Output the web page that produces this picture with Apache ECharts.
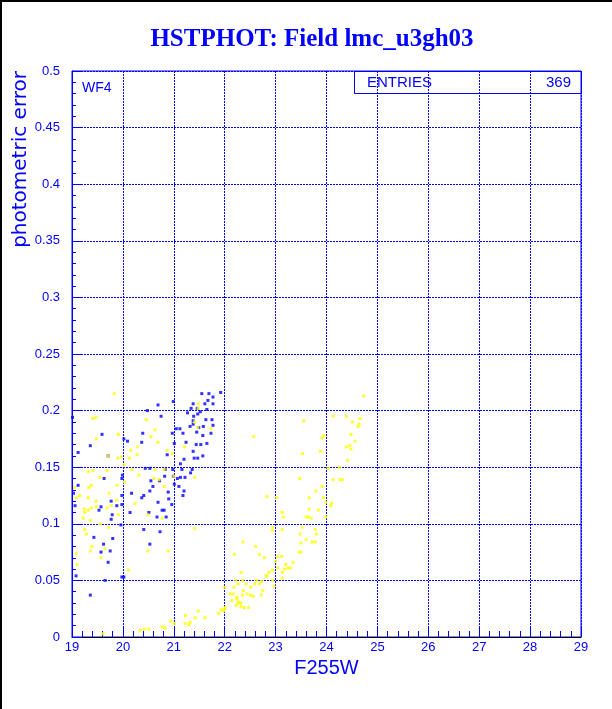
<!DOCTYPE html>
<html>
<head>
<meta charset="utf-8">
<script src="https://cdn.jsdelivr.net/npm/echarts@6/dist/echarts.min.js"></script>
<style>
html,body{margin:0;padding:0;background:#fff;}
#chart{width:612px;height:709px;}
</style>
</head>
<body>
<div id="chart"></div>
<script>
var titleText = 'HSTPHOT: Field lmc_u3gh03';
var xName = 'F255W';
var yName = 'photometric error';
var panelLabel = 'WF4';
var statLabel = 'ENTRIES';
var statValue = '369';

var blueX = [21.55,21.69,21.67,21.92,21.77,20.69,21.38,21.61,21.77,21.34,21.46,21.52,21.65,20.48,21.27,21.47,19.01,20.75,21.39,21.75,21.63,21.38,20.99,21.77,21.32,21.05,21.12,21.49,21.58,21.38,19.59,20.39,20.97,21.18,21.45,21.57,21.73,20.02,20.09,20.37,21.01,21.24,21.44,21.53,21.65,19.12,19.36,19.71,20.87,21.38,21.20,21.40,21.47,21.57,21.13,19.99,20.44,20.53,20.83,20.98,21.16,21.36,19.63,19.98,20.55,20.72,20.82,20.99,21.07,21.13,21.22,21.33,19.12,20.59,21.01,21.10,20.53,21.20,20.89,20.17,19.03,21.18,20.41,20.37,19.77,19.98,20.69,20.90,20.96,19.88,19.98,19.06,19.57,19.53,20.51,20.77,20.81,20.14,19.79,20.67,20.85,19.77,19.96,20.41,20.73,19.43,19.80,20.53,19.62,19.57,19.75,19.71,19.08,19.65,19.98,20.02,19.36];
var blueY = [0.215,0.215,0.209,0.216,0.212,0.205,0.206,0.206,0.206,0.202,0.202,0.199,0.201,0.200,0.198,0.197,0.194,0.195,0.195,0.192,0.192,0.191,0.208,0.187,0.186,0.184,0.184,0.185,0.186,0.188,0.179,0.180,0.180,0.180,0.181,0.178,0.180,0.175,0.173,0.172,0.171,0.172,0.170,0.170,0.171,0.163,0.169,0.160,0.161,0.164,0.157,0.158,0.158,0.160,0.153,0.143,0.149,0.149,0.148,0.148,0.148,0.148,0.140,0.140,0.138,0.138,0.142,0.142,0.140,0.141,0.141,0.145,0.134,0.133,0.135,0.133,0.129,0.129,0.128,0.127,0.127,0.125,0.125,0.123,0.120,0.125,0.119,0.122,0.117,0.116,0.117,0.116,0.115,0.112,0.110,0.112,0.112,0.110,0.108,0.106,0.106,0.104,0.099,0.095,0.093,0.088,0.087,0.082,0.082,0.075,0.076,0.066,0.054,0.050,0.053,0.053,0.037];

var yellowX = [19.83,21.48,21.48,19.41,19.47,20.46,19.91,20.63,20.55,19.48,20.69,21.47,21.73,21.41,21.21,20.29,20.15,20.87,20.97,20.28,19.90,20.13,19.71,19.97,20.02,19.32,19.41,19.69,20.18,20.63,20.81,20.31,19.55,20.61,20.71,21.00,21.41,20.03,19.38,19.88,20.81,19.05,19.33,19.73,19.15,19.08,19.32,19.88,19.47,20.24,19.77,19.24,19.32,19.38,19.48,19.69,19.91,19.25,20.49,20.77,19.22,19.36,19.56,19.72,21.41,19.25,19.28,19.39,19.36,19.65,20.49,20.89,19.08,19.57,19.10,20.11,22.19,22.22,22.26,22.18,22.11,22.17,22.24,22.14,22.26,22.01,21.98,21.88,21.93,21.48,21.61,21.42,21.23,20.94,21.01,21.22,21.32,21.30,20.77,20.83,20.34,20.42,20.51,19.61,24.73,24.13,24.39,24.66,24.51,24.64,24.62,23.55,22.57,23.95,23.91,24.48,24.56,24.46,24.48,24.39,23.88,23.53,24.41,24.03,24.25,23.47,24.13,24.27,24.31,23.79,23.91,22.83,23.02,23.66,23.94,23.99,24.10,24.08,23.66,23.84,23.13,23.15,23.60,23.64,23.70,23.99,22.94,22.94,23.52,23.13,23.78,23.80,23.48,23.60,23.50,23.72,23.78,22.36,22.61,23.50,23.46,22.68,22.78,23.04,23.12,23.34,23.00,23.20,23.24,23.29,23.18,23.04,23.13,22.94,22.32,22.87,22.83,22.81,23.13,22.35,22.72,22.94,22.63,22.59,22.97,22.68,22.42,22.00,22.51,22.75,22.37,22.44,22.51,22.56,22.72,22.35,22.24,22.29,22.32,22.32,22.23,22.38,22.47,22.00];
var yellowY = [0.215,0.206,0.202,0.193,0.194,0.192,0.179,0.183,0.177,0.175,0.172,0.185,0.184,0.190,0.168,0.168,0.165,0.165,0.162,0.161,0.158,0.158,0.160,0.159,0.152,0.146,0.147,0.147,0.148,0.148,0.148,0.143,0.141,0.140,0.139,0.142,0.141,0.137,0.134,0.134,0.133,0.132,0.132,0.127,0.125,0.123,0.123,0.121,0.120,0.118,0.116,0.113,0.112,0.114,0.115,0.114,0.108,0.110,0.108,0.105,0.105,0.103,0.100,0.097,0.096,0.095,0.091,0.080,0.076,0.078,0.076,0.076,0.074,0.070,0.064,0.059,0.073,0.050,0.047,0.044,0.038,0.038,0.035,0.032,0.031,0.026,0.023,0.021,0.024,0.023,0.017,0.017,0.019,0.014,0.012,0.012,0.013,0.011,0.009,0.008,0.006,0.007,0.007,0.003,0.213,0.195,0.195,0.193,0.190,0.188,0.186,0.191,0.177,0.178,0.176,0.179,0.173,0.169,0.166,0.168,0.164,0.162,0.156,0.149,0.150,0.140,0.139,0.139,0.139,0.129,0.133,0.124,0.123,0.123,0.123,0.119,0.118,0.116,0.113,0.112,0.110,0.106,0.106,0.106,0.105,0.106,0.097,0.094,0.097,0.095,0.095,0.091,0.091,0.086,0.083,0.084,0.084,0.084,0.080,0.075,0.075,0.073,0.070,0.071,0.071,0.066,0.067,0.064,0.061,0.061,0.060,0.061,0.057,0.059,0.057,0.057,0.054,0.054,0.052,0.050,0.049,0.050,0.050,0.047,0.045,0.047,0.047,0.044,0.044,0.041,0.041,0.038,0.037,0.036,0.037,0.037,0.034,0.030,0.030,0.027,0.028,0.026,0.026,0.025];

function zip(xs, ys){ var out=[]; for(var i=0;i<xs.length;i++){ out.push([xs[i], ys[i]]); } return out; }

var BLUE = '#0000ff';
var chart = echarts.init(document.getElementById('chart'), null, {renderer:'canvas'});

var option = {
  backgroundColor: '#ffffff',
  animation: false,
  grid: {left: 72, top: 71, width: 509, height: 566, show: true, borderColor: BLUE, borderWidth: 1, backgroundColor: 'transparent'},
  xAxis: {
    type: 'value', min: 19, max: 29, interval: 1,
    name: xName, nameLocation: 'middle', nameGap: 20,
    nameTextStyle: {fontFamily: 'Liberation Sans', fontSize: 20, color: BLUE},
    axisLine: {show: true, onZero: false, lineStyle: {color: '#000000', width: 1}},
    axisTick: {show: true, inside: true, length: 10, lineStyle: {color: BLUE}},
    minorTick: {show: true, splitNumber: 5, length: 6, lineStyle: {color: BLUE}},
    axisLabel: {color: BLUE, fontFamily: 'Liberation Sans', fontSize: 13, margin: 4},
    splitLine: {show: true, lineStyle: {color: BLUE, type: [2,1], width: 1}}
  },
  yAxis: {
    type: 'value', min: 0, max: 0.5, interval: 0.05,
    axisLine: {show: true, onZero: false, lineStyle: {color: BLUE, width: 1}},
    axisTick: {show: true, inside: true, length: 10, lineStyle: {color: BLUE}},
    minorTick: {show: true, splitNumber: 5, length: 4, lineStyle: {color: BLUE}},
    axisLabel: {color: BLUE, fontFamily: 'Liberation Sans', fontSize: 13, margin: 12},
    splitLine: {show: true, lineStyle: {color: BLUE, type: [2,1], width: 1}}
  },
  graphic: [
    {type: 'rect', shape: {x: 0, y: 0, width: 2, height: 709}, style: {fill: '#000'}, silent: true},
    {type: 'rect', shape: {x: 0, y: 0, width: 612, height: 2}, style: {fill: '#000'}, silent: true},
    {type: 'text', x: 312, y: 40,
      style: {text: titleText, fontFamily: 'Liberation Serif', fontWeight: 'bold', fontSize: 25, fill: BLUE, align: 'center', verticalAlign: 'middle'}},
    {type: 'text', x: 21, y: 71, rotation: Math.PI/2,
      style: {text: yName, fontFamily: 'DejaVu Sans', fontSize: 20, fill: BLUE, align: 'right', verticalAlign: 'middle'}},
    {type: 'text', x: 82, y: 88,
      style: {text: panelLabel, fontFamily: 'Liberation Sans', fontSize: 14, fill: BLUE, align: 'left', verticalAlign: 'middle'}},
    {type: 'rect', shape: {x: 354.5, y: 71.5, width: 227, height: 22}, style: {fill: 'none', stroke: BLUE, lineWidth: 1}},
    {type: 'text', x: 367, y: 83,
      style: {text: statLabel, fontFamily: 'Liberation Sans', fontSize: 15, fill: BLUE, align: 'left', verticalAlign: 'middle'}},
    {type: 'text', x: 571, y: 83,
      style: {text: statValue, fontFamily: 'Liberation Sans', fontSize: 15, fill: BLUE, align: 'right', verticalAlign: 'middle'}}
  ],
  series: [
    {type: 'scatter', name: 'blue', data: zip(blueX, blueY), symbol: 'rect', symbolSize: 3,
      itemStyle: {color: BLUE}},
    {type: 'scatter', name: 'yellow', data: zip(yellowX, yellowY), symbol: 'rect', symbolSize: 3,
      itemStyle: {color: '#ffff00'}}
  ]
};
chart.setOption(option);
</script>
</body>
</html>
